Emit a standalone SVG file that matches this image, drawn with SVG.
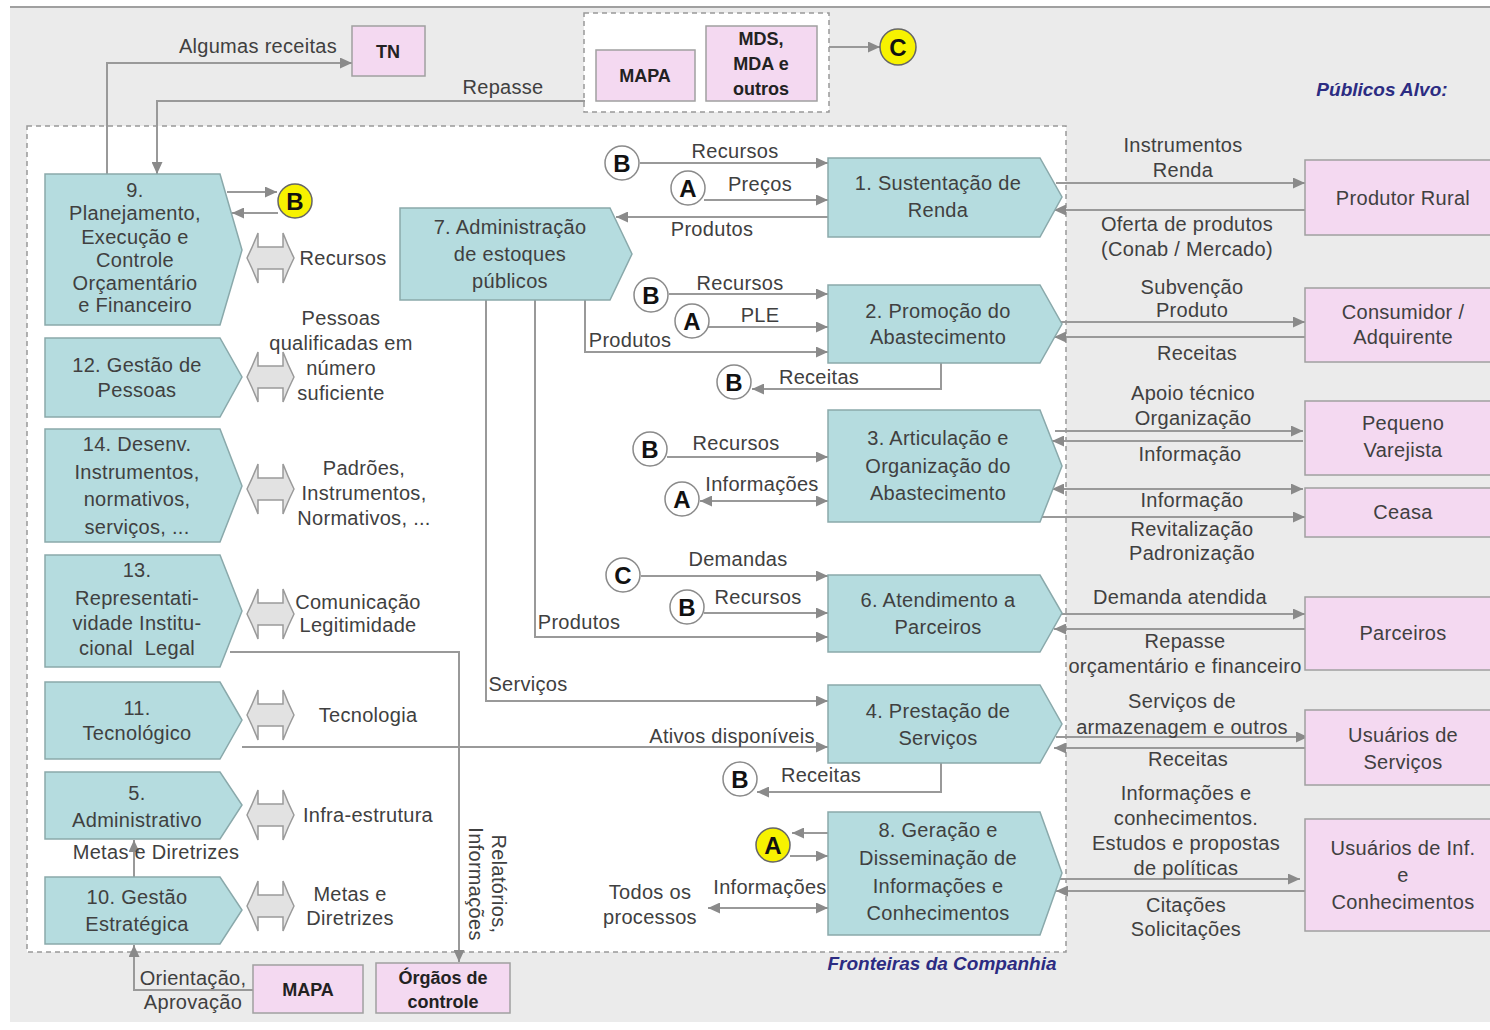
<svg xmlns="http://www.w3.org/2000/svg" width="1490" height="1030" viewBox="0 0 1490 1030">
<defs>
<style>
.node{fill:#b5dcdf;stroke:#8aa9ab;stroke-width:1.5}
.pub{fill:#f4d9f1;stroke:#a0a0a0;stroke-width:1.5}
.t{font-family:"Liberation Sans",Arial,sans-serif;font-size:20px;fill:#404040;text-anchor:middle;letter-spacing:0.3px}
.bt{font-family:"Liberation Sans",Arial,sans-serif;font-size:18px;font-weight:bold;fill:#222;text-anchor:middle}
.ct{font-family:"Liberation Sans",Arial,sans-serif;font-size:24px;font-weight:bold;fill:#111;text-anchor:middle}
.tt{font-family:"Liberation Sans",Arial,sans-serif;font-size:19px;font-weight:bold;font-style:italic;fill:#2c2c82}
.cw{fill:#fff;stroke:#8a8a8a;stroke-width:1.5}
.cy{fill:#f7f200;stroke:#666;stroke-width:1.5}
.conn path{fill:none;stroke:#999;stroke-width:2}
.dbl{fill:#e2e2e2;stroke:#9a9a9a;stroke-width:1.5}
</style>
<marker id="ah" markerUnits="userSpaceOnUse" markerWidth="13" markerHeight="11" refX="12" refY="5.5" orient="auto-start-reverse">
<path d="M0,0 L12,5.5 L0,11 Z" fill="#8a8a8a"/>
</marker>
<path id="da" class="dbl" d="M0,0 Q6,-12 11,-25 L11,-11 L36,-11 L36,-25 Q41,-12 47,0 Q41,12 36,25 L36,11 L11,11 L11,25 Q6,12 0,0 Z"/>
</defs>

<!-- background -->
<rect x="0" y="0" width="1490" height="1030" fill="#fff"/>
<rect x="10" y="7" width="1480" height="1015" fill="#ebebeb"/>
<line x1="10" y1="7" x2="1490" y2="7" stroke="#a0a0a0" stroke-width="2"/>
<rect x="27" y="126" width="1039" height="826" fill="#fff" stroke="#999" stroke-width="1.5" stroke-dasharray="5,4"/>
<rect x="584" y="13" width="245" height="99" fill="#fff" stroke="#999" stroke-width="1.5" stroke-dasharray="5,4"/>
<text class="tt" x="1382" y="96" text-anchor="middle">Públicos Alvo:</text>
<text class="tt" x="942" y="970" text-anchor="middle">Fronteiras da Companhia</text>

<!-- connectors -->
<g class="conn" id="connectors">
<path d="M107,174 V63 H352" marker-end="url(#ah)"/>
<path d="M585,101 H157 V174" marker-end="url(#ah)"/>
<path d="M829,47 H880" marker-end="url(#ah)"/>
<path d="M227,192 H277" marker-end="url(#ah)"/>
<path d="M278,213 H232" marker-end="url(#ah)"/>
<path d="M640,163 H828" marker-end="url(#ah)"/>
<path d="M704,200 H828" marker-end="url(#ah)"/>
<path d="M828,217 H616" marker-end="url(#ah)"/>
<path d="M669,294 H828" marker-end="url(#ah)"/>
<path d="M708,327 H828" marker-end="url(#ah)"/>
<path d="M585,300 V352 H828" marker-end="url(#ah)"/>
<path d="M941,363 V389 H752" marker-end="url(#ah)"/>
<path d="M667,457 H828" marker-end="url(#ah)"/>
<path d="M700,501 H828" marker-start="url(#ah)" marker-end="url(#ah)"/>
<path d="M641,576 H828" marker-end="url(#ah)"/>
<path d="M704,613 H828" marker-end="url(#ah)"/>
<path d="M535,300 V637 H828" marker-end="url(#ah)"/>
<path d="M486,300 V701 H828" marker-end="url(#ah)"/>
<path d="M242,747 H828" marker-end="url(#ah)"/>
<path d="M941,763 V792 H757" marker-end="url(#ah)"/>
<path d="M828,833 H792" marker-end="url(#ah)"/>
<path d="M790,856 H828" marker-end="url(#ah)"/>
<path d="M708,908 H828" marker-start="url(#ah)" marker-end="url(#ah)"/>
<path d="M230,652 H459 V962" marker-end="url(#ah)"/>
<path d="M134,877 V840" marker-end="url(#ah)"/>
<path d="M253,990 H134 V945" marker-end="url(#ah)"/>
<path d="M1056,183 H1305" marker-end="url(#ah)"/>
<path d="M1305,210 H1054" marker-end="url(#ah)"/>
<path d="M1058,322 H1305" marker-end="url(#ah)"/>
<path d="M1305,337 H1054" marker-end="url(#ah)"/>
<path d="M1055,431 H1303" marker-end="url(#ah)"/>
<path d="M1303,441 H1052" marker-end="url(#ah)"/>
<path d="M1052,489 H1303" marker-start="url(#ah)" marker-end="url(#ah)"/>
<path d="M1042,517 H1305" marker-end="url(#ah)"/>
<path d="M1056,614 H1305" marker-end="url(#ah)"/>
<path d="M1305,629 H1054" marker-end="url(#ah)"/>
<path d="M1056,737 H1308" marker-end="url(#ah)"/>
<path d="M1305,748 H1054" marker-end="url(#ah)"/>
<path d="M1056,879 H1300" marker-end="url(#ah)"/>
<path d="M1305,891 H1056" marker-end="url(#ah)"/>
</g>

<!-- connector labels -->
<g id="labels" class="t">
<text x="258" y="53">Algumas receitas</text>
<text x="503" y="94">Repasse</text>
<text x="343" y="265">Recursos</text>
<text x="341" y="325">Pessoas</text>
<text x="341" y="350">qualificadas em</text>
<text x="341" y="375">número</text>
<text x="341" y="400">suficiente</text>
<text x="364" y="475">Padrões,</text>
<text x="364" y="500">Instrumentos,</text>
<text x="364" y="525">Normativos, ...</text>
<text x="358" y="609">Comunicação</text>
<text x="358" y="632">Legitimidade</text>
<text x="368" y="722">Tecnologia</text>
<text x="368" y="822">Infra-estrutura</text>
<text x="156" y="859">Metas e Diretrizes</text>
<text x="350" y="901">Metas e</text>
<text x="350" y="925">Diretrizes</text>
<text x="193" y="985">Orientação,</text>
<text x="193" y="1009">Aprovação</text>
<g transform="translate(487,884) rotate(90)">
<text x="0" y="-5">Relatórios,</text>
<text x="0" y="18">Informações</text>
</g>
<text x="735" y="158">Recursos</text>
<text x="760" y="191">Preços</text>
<text x="712" y="236">Produtos</text>
<text x="740" y="290">Recursos</text>
<text x="760" y="322">PLE</text>
<text x="630" y="347">Produtos</text>
<text x="819" y="384">Receitas</text>
<text x="736" y="450">Recursos</text>
<text x="762" y="491">Informações</text>
<text x="738" y="566">Demandas</text>
<text x="758" y="604">Recursos</text>
<text x="579" y="629">Produtos</text>
<text x="528" y="691">Serviços</text>
<text x="732" y="743">Ativos disponíveis</text>
<text x="821" y="782">Receitas</text>
<text x="770" y="894">Informações</text>
<text x="650" y="899">Todos os</text>
<text x="650" y="924">processos</text>
<text x="1183" y="152">Instrumentos</text>
<text x="1183" y="177">Renda</text>
<text x="1187" y="231">Oferta de produtos</text>
<text x="1187" y="256">(Conab / Mercado)</text>
<text x="1192" y="294">Subvenção</text>
<text x="1192" y="317">Produto</text>
<text x="1197" y="360">Receitas</text>
<text x="1193" y="400">Apoio técnico</text>
<text x="1193" y="425">Organização</text>
<text x="1190" y="461">Informação</text>
<text x="1192" y="507">Informação</text>
<text x="1192" y="536">Revitalização</text>
<text x="1192" y="560">Padronização</text>
<text x="1180" y="604">Demanda atendida</text>
<text x="1185" y="648">Repasse</text>
<text x="1185" y="673">orçamentário e financeiro</text>
<text x="1182" y="708">Serviços de</text>
<text x="1182" y="734">armazenagem e outros</text>
<text x="1188" y="766">Receitas</text>
<text x="1186" y="800">Informações e</text>
<text x="1186" y="825">conhecimentos.</text>
<text x="1186" y="850">Estudos e propostas</text>
<text x="1186" y="875">de políticas</text>
<text x="1186" y="912">Citações</text>
<text x="1186" y="936">Solicitações</text>
</g>

<!-- double arrows -->
<g id="double-arrows">
<use href="#da" x="247" y="258"/>
<use href="#da" x="247" y="377"/>
<use href="#da" x="247" y="489"/>
<use href="#da" x="247" y="614"/>
<use href="#da" x="247" y="715"/>
<use href="#da" x="247" y="815"/>
<use href="#da" x="247" y="906"/>
</g>

<!-- external boxes -->
<g id="tn"><rect class="pub" x="352" y="26" width="73" height="50"/><text class="bt" x="388" y="58">TN</text></g>
<g id="mapa-top"><rect class="pub" x="596" y="50" width="99" height="51"/><text class="bt" x="645" y="82">MAPA</text></g>
<g id="mds"><rect class="pub" x="706" y="26" width="111" height="75"/>
<text class="bt" x="761" y="45">MDS,</text><text class="bt" x="761" y="70">MDA e</text><text class="bt" x="761" y="95">outros</text></g>
<g id="mapa-bottom"><rect class="pub" x="253" y="965" width="110" height="48"/><text class="bt" x="308" y="996">MAPA</text></g>
<g id="orgaos"><rect class="pub" x="376" y="963" width="134" height="50"/>
<text class="bt" x="443" y="984">Órgãos de</text><text class="bt" x="443" y="1008">controle</text></g>

<g id="produtor"><rect class="pub" x="1305" y="160" width="190" height="75"/><text class="t" x="1403" y="205">Produtor Rural</text></g>
<g id="consumidor"><rect class="pub" x="1305" y="288" width="190" height="74"/><text class="t" x="1403" y="319">Consumidor /</text><text class="t" x="1403" y="344">Adquirente</text></g>
<g id="pequeno"><rect class="pub" x="1305" y="401" width="190" height="74"/><text class="t" x="1403" y="430">Pequeno</text><text class="t" x="1403" y="457">Varejista</text></g>
<g id="ceasa"><rect class="pub" x="1305" y="488" width="190" height="49"/><text class="t" x="1403" y="519">Ceasa</text></g>
<g id="parceiros"><rect class="pub" x="1305" y="597" width="190" height="73"/><text class="t" x="1403" y="640">Parceiros</text></g>
<g id="usuarios-servicos"><rect class="pub" x="1305" y="710" width="190" height="75"/><text class="t" x="1403" y="742">Usuários de</text><text class="t" x="1403" y="769">Serviços</text></g>
<g id="usuarios-inf"><rect class="pub" x="1305" y="819" width="190" height="112"/><text class="t" x="1403" y="855">Usuários de Inf.</text><text class="t" x="1403" y="882">e</text><text class="t" x="1403" y="909">Conhecimentos</text></g>

<!-- circles -->
<g id="circle-C-top"><circle class="cy" cx="898" cy="47" r="18"/><text class="ct" x="898" y="56">C</text></g>
<g id="circle-B-9"><circle class="cy" cx="295" cy="201" r="17"/><text class="ct" x="295" y="210">B</text></g>
<g id="circle-B-1"><circle class="cw" cx="622" cy="163" r="17"/><text class="ct" x="622" y="172">B</text></g>
<g id="circle-A-1"><circle class="cw" cx="688" cy="188" r="17"/><text class="ct" x="688" y="197">A</text></g>
<g id="circle-B-2"><circle class="cw" cx="651" cy="295" r="17"/><text class="ct" x="651" y="304">B</text></g>
<g id="circle-A-2"><circle class="cw" cx="692" cy="321" r="17"/><text class="ct" x="692" y="330">A</text></g>
<g id="circle-B-2r"><circle class="cw" cx="734" cy="382" r="17"/><text class="ct" x="734" y="391">B</text></g>
<g id="circle-B-3"><circle class="cw" cx="650" cy="449" r="17"/><text class="ct" x="650" y="458">B</text></g>
<g id="circle-A-3"><circle class="cw" cx="682" cy="499" r="17"/><text class="ct" x="682" y="508">A</text></g>
<g id="circle-C-6"><circle class="cw" cx="623" cy="575" r="17"/><text class="ct" x="623" y="584">C</text></g>
<g id="circle-B-6"><circle class="cw" cx="687" cy="607" r="17"/><text class="ct" x="687" y="616">B</text></g>
<g id="circle-B-4"><circle class="cw" cx="740" cy="779" r="17"/><text class="ct" x="740" y="788">B</text></g>
<g id="circle-A-8"><circle class="cy" cx="773" cy="845" r="17"/><text class="ct" x="773" y="854">A</text></g>

<!-- left process nodes -->
<g id="node9"><path class="node" d="M45,174 H220 L242,250 L220,325 H45 Z"/>
<text class="t" x="135" y="197">9.</text><text class="t" x="135" y="220">Planejamento,</text><text class="t" x="135" y="244">Execução e</text><text class="t" x="135" y="267">Controle</text><text class="t" x="135" y="290">Orçamentário</text><text class="t" x="135" y="312">e Financeiro</text></g>
<g id="node12"><path class="node" d="M45,338 H220 L242,377 L220,417 H45 Z"/>
<text class="t" x="137" y="372">12. Gestão de</text><text class="t" x="137" y="397">Pessoas</text></g>
<g id="node14"><path class="node" d="M45,429 H220 L242,486 L220,542 H45 Z"/>
<text class="t" x="137" y="451">14. Desenv.</text><text class="t" x="137" y="479">Instrumentos,</text><text class="t" x="137" y="506">normativos,</text><text class="t" x="137" y="534">serviços, ...</text></g>
<g id="node13"><path class="node" d="M45,555 H220 L242,611 L220,667 H45 Z"/>
<text class="t" x="137" y="577">13.</text><text class="t" x="137" y="605">Representati-</text><text class="t" x="137" y="630">vidade Institu-</text><text class="t" x="137" y="655">cional&#160; Legal</text></g>
<g id="node11"><path class="node" d="M45,682 H220 L242,720 L220,759 H45 Z"/>
<text class="t" x="137" y="715">11.</text><text class="t" x="137" y="740">Tecnológico</text></g>
<g id="node5"><path class="node" d="M45,772 H220 L242,805 L220,839 H45 Z"/>
<text class="t" x="137" y="800">5.</text><text class="t" x="137" y="827">Administrativo</text></g>
<g id="node10"><path class="node" d="M45,877 H220 L242,910 L220,944 H45 Z"/>
<text class="t" x="137" y="904">10. Gestão</text><text class="t" x="137" y="931">Estratégica</text></g>
<g id="node7"><path class="node" d="M400,208 H610 L632,254 L610,300 H400 Z"/>
<text class="t" x="510" y="234">7. Administração</text><text class="t" x="510" y="261">de estoques</text><text class="t" x="510" y="288">públicos</text></g>

<!-- right process nodes -->
<g id="node1"><path class="node" d="M828,158 H1040 L1062,197 L1040,237 H828 Z"/>
<text class="t" x="938" y="190">1. Sustentação de</text><text class="t" x="938" y="217">Renda</text></g>
<g id="node2"><path class="node" d="M828,285 H1040 L1062,324 L1040,363 H828 Z"/>
<text class="t" x="938" y="318">2. Promoção do</text><text class="t" x="938" y="344">Abastecimento</text></g>
<g id="node3"><path class="node" d="M828,410 H1040 L1062,466 L1040,522 H828 Z"/>
<text class="t" x="938" y="445">3. Articulação e</text><text class="t" x="938" y="473">Organização do</text><text class="t" x="938" y="500">Abastecimento</text></g>
<g id="node6"><path class="node" d="M828,575 H1040 L1062,613 L1040,652 H828 Z"/>
<text class="t" x="938" y="607">6. Atendimento a</text><text class="t" x="938" y="634">Parceiros</text></g>
<g id="node4"><path class="node" d="M828,685 H1040 L1062,724 L1040,763 H828 Z"/>
<text class="t" x="938" y="718">4. Prestação de</text><text class="t" x="938" y="745">Serviços</text></g>
<g id="node8"><path class="node" d="M828,812 H1040 L1062,873 L1040,935 H828 Z"/>
<text class="t" x="938" y="837">8. Geração e</text><text class="t" x="938" y="865">Disseminação de</text><text class="t" x="938" y="893">Informações e</text><text class="t" x="938" y="920">Conhecimentos</text></g>
</svg>
